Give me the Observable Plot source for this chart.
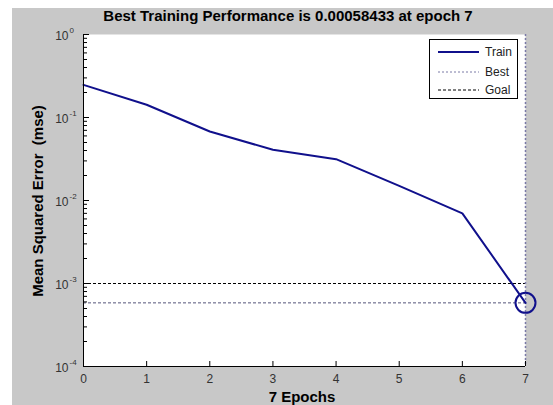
<!DOCTYPE html>
<html><head><meta charset="utf-8">
<script src="https://cdn.jsdelivr.net/npm/d3@7"></script>
<script src="https://cdn.jsdelivr.net/npm/@observablehq/plot@0.6"></script>
<style>
body{margin:0;background:#fff;font-family:"Liberation Sans",Arial,sans-serif;}
#wrap{position:relative;width:553px;height:405px;overflow:hidden;}
#bg{position:absolute;left:12px;top:8px;right:0;bottom:0;background:#c8c8c8;}
#chart{position:absolute;left:0;top:0;}
.lbl{position:absolute;font-weight:bold;color:#000;white-space:pre;font-size:15px;line-height:15px;}
#title{left:0;width:576px;text-align:center;top:8px;}
#xlabel{left:0;width:604px;text-align:center;top:389px;}
#ylabel{left:37px;top:201px;transform:translate(-50%,-50%) rotate(-90deg);}
#legend{position:absolute;left:429px;top:39px;width:89px;height:60px;box-sizing:border-box;background:#fff;border:1px solid #000;}
</style></head><body>
<div id="wrap"><div id="bg"></div><div id="chart"></div>
<div id="title" class="lbl"></div><div id="xlabel" class="lbl"></div><div id="ylabel" class="lbl"></div><div id="legend"></div></div>
<script>
// ---- data ----
const epochs = [0, 1, 2, 3, 4, 5, 6, 7];
const trainMse = [0.247, 0.1426, 0.0678, 0.0408, 0.0315, 0.0150, 0.0070, 0.00058433];
const bestEpoch = 7;
const bestPerf = 0.00058433;
const goalPerf = 0.001;
const xTicks = [0, 1, 2, 3, 4, 5, 6, 7];
const yMajor = [1e-4, 1e-3, 1e-2, 1e-1, 1];
const yExponents = ["-4", "-3", "-2", "-1", "0"];
const yMinor = [2e-4,3e-4,4e-4,5e-4,6e-4,7e-4,8e-4,9e-4,
                2e-3,3e-3,4e-3,5e-3,6e-3,7e-3,8e-3,9e-3,
                2e-2,3e-2,4e-2,5e-2,6e-2,7e-2,8e-2,9e-2,
                2e-1,3e-1,4e-1,5e-1,6e-1,7e-1,8e-1,9e-1];
const titleText = "Best Training Performance is 0.00058433 at epoch 7";
const xLabelText = "7 Epochs";
const yLabelText = "Mean Squared Error  (mse)";
const legendLabels = ["Train", "Best", "Goal"];

const navy = "#10108c";
const train = epochs.map((e, i) => ({epoch: e, mse: trainMse[i]}));
const majors = yMajor.map((v, i) => ({v, e: yExponents[i]}));

const chart = Plot.plot({
  width: 553, height: 405,
  marginLeft: 83, marginRight: 28, marginTop: 34, marginBottom: 39,
  style: {background: "transparent", fontFamily: "Liberation Sans, Arial, sans-serif", fontSize: "12px", color: "#222"},
  x: {domain: [0, 7]},
  y: {type: "log", domain: [1e-4, 1]},
  marks: [
    Plot.frame({fill: "white", stroke: "none"}),
    Plot.ruleY([goalPerf], {stroke: "#000", strokeDasharray: "3,2", strokeWidth: 1}),
    Plot.ruleY([bestPerf], {stroke: "#55557a", strokeDasharray: "3,2", strokeWidth: 1}),
    Plot.ruleX([bestEpoch], {stroke: "#7a7aa6", strokeDasharray: "2,2", strokeWidth: 1.5}),
    Plot.line(train, {x: "epoch", y: "mse", stroke: navy, strokeWidth: 2}),
    Plot.dot([{epoch: bestEpoch, mse: bestPerf}], {x: "epoch", y: "mse", r: 10, stroke: navy, strokeWidth: 2, fill: "none"}),
    Plot.ruleX([0], {stroke: "#000"}),
    Plot.ruleY([1e-4], {stroke: "#000"}),
    Plot.axisY(yMinor, {tickSize: -4, fill: "none", label: null, stroke: "#000"}),
    Plot.axisY(yMajor, {tickSize: -6, fill: "none", label: null, stroke: "#000"}),
    Plot.axisX(xTicks, {tickSize: -5, fill: "none", label: null, stroke: "#000"}),
    Plot.axisX(xTicks, {tickSize: 0, tickPadding: 8, label: null, fill: "#333", fontSize: 12}),
    Plot.text(majors, {y: "v", frameAnchor: "left", text: () => "10", textAnchor: "end", dx: -15, dy: 2, fontSize: 12, fill: "#333"}),
    Plot.text(majors, {y: "v", frameAnchor: "left", text: "e", textAnchor: "start", dx: -14, dy: -4, fontSize: 8, fill: "#333"})
  ]
});
document.getElementById("chart").appendChild(chart);
document.getElementById("title").textContent = titleText;
document.getElementById("xlabel").textContent = xLabelText;
document.getElementById("ylabel").textContent = yLabelText;

// legend
const styles = [
  {stroke: navy, width: 2, dash: null},
  {stroke: "#7a7aa6", width: 1, dash: "2,2"},
  {stroke: "#000", width: 1, dash: "3,2"}
];
const lg = d3.select("#legend").append("svg").attr("width", 87).attr("height", 58)
  .style("font-family", "Liberation Sans, Arial, sans-serif").style("font-size", "12px");
const rowsY = [12, 32, 50];
legendLabels.forEach((lab, i) => {
  lg.append("line").attr("x1", 8).attr("x2", 49).attr("y1", rowsY[i]).attr("y2", rowsY[i])
    .attr("stroke", styles[i].stroke).attr("stroke-width", styles[i].width)
    .attr("stroke-dasharray", styles[i].dash);
  lg.append("text").attr("x", 55).attr("y", rowsY[i]).attr("dy", "0.35em").attr("fill", "#222").text(lab);
});
</script>
</body></html>
